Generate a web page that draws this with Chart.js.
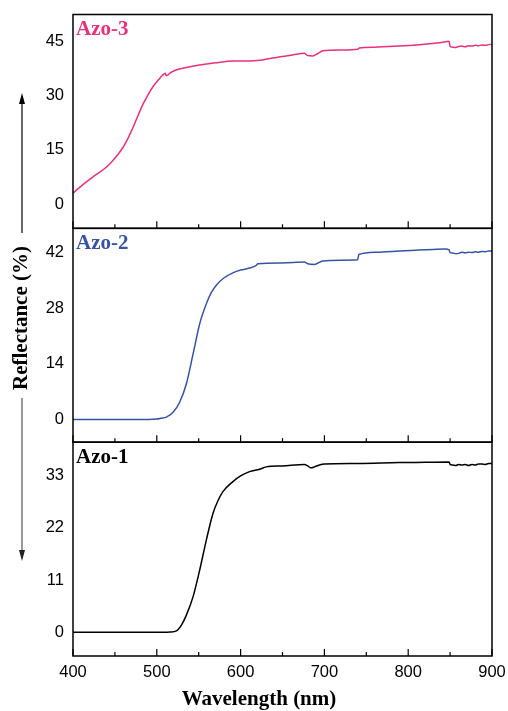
<!DOCTYPE html>
<html>
<head>
<meta charset="utf-8">
<script src="https://cdn.jsdelivr.net/npm/chart.js@4/dist/chart.umd.min.js"></script>
<style>
  html, body { margin: 0; padding: 0; background: #fff; }
  #wrap { width: 508px; height: 711px; }
</style>
</head>
<body>
<div id="wrap"><canvas id="reflChart"></canvas></div>
<script>
// --- Data ---
const xTicks = [400, 500, 600, 700, 800, 900];

const wlAzo3 = [400,408,416,424,432,440,446,453,460,466,472,478,484,490,496,502,507,510,511.5,516,523,535,551,570,591,610,623,635,650,663,676,680,686,692,698,720,739.7,741.7,760,789,810,829,840,848.8,850,853,856,860,864,868,872,876,880,884,888,892,896,900];
const rAzo3 = [3.1,4.7,6.2,7.6,8.9,10.3,11.7,13.6,15.8,18.4,21.4,24.7,27.8,30.4,32.6,34.3,35.6,36.1,35.4,36.2,37.0,37.7,38.4,39.0,39.5,39.5,39.7,40.2,40.7,41.2,41.6,41.0,40.9,41.5,42.3,42.5,42.7,43.1,43.3,43.6,43.9,44.3,44.6,44.9,43.5,43.3,43.2,43.5,43.6,43.4,43.7,43.6,43.8,43.7,43.9,43.8,44.0,44.1];
const ticksAzo3 = [0, 15, 30, 45];

const wlAzo2 = [400,450,490,500,505,511.5,519.4,527.4,535.3,543.3,551.2,559.1,565,571,580,590.8,600,610.7,618.7,620.6,650,676.2,680,688,698,720,739.7,741,761.5,790,809,830,844.6,848.8,850,853,857,860.3,864,868,872,876,880,884,888,892,896,900];
const rAzo2 = [0,0,0,0.1,0.3,0.6,1.8,4.4,9.0,16.5,24.1,29.1,31.9,33.8,35.6,36.9,37.6,38.1,38.8,39.2,39.4,39.6,39.2,39.0,39.9,40.1,40.2,41.5,42.1,42.4,42.6,42.8,42.9,42.7,42.0,41.9,41.7,41.8,42.1,41.9,42.1,42.0,42.2,42.1,42.3,42.2,42.4,42.4];
const ticksAzo2 = [0, 14, 28, 42];

const wlAzo1 = [400,480,510,515.5,523.4,529.4,535.3,543.3,551.2,559.1,567,573,578.9,590.8,600,610.7,622.6,630.6,650,676.2,680,684,688,694,700,740,789,820,848.8,850,853,857,860,864,868,872,876,880,884,888,892,896,900];
const rAzo1 = [0,0,0,0.05,0.3,1.5,3.6,7.5,13.1,19.4,25.0,27.7,29.6,31.7,32.9,33.8,34.3,34.8,35.0,35.3,35.0,34.6,34.8,35.2,35.4,35.5,35.7,35.75,35.8,35.3,35.2,35.1,35.3,35.2,35.3,35.1,35.3,35.2,35.4,35.4,35.3,35.5,35.5];
const ticksAzo1 = [0, 11, 22, 33];

const panelNames = ["Azo-3", "Azo-2", "Azo-1"];
const panelColors = ["#e8307c", "#3953a4", "#000000"];

// --- Helpers ---
const pts = (xs, ys) => xs.map((x, i) => ({ x: x, y: ys[i] }));
const tickFont = { family: "'Liberation Sans', Arial, sans-serif", size: 16.5 };
const serif = "'Liberation Serif', 'DejaVu Serif', serif";

function yScale(min, max, tickVals) {
  return {
    type: 'linear',
    position: 'left',
    stack: 'panels',
    stackWeight: 1,
    min: min,
    max: max,
    afterBuildTicks: s => { s.ticks = tickVals.map(v => ({ value: v })); },
    afterFit: s => { s.width = 73; s.paddingTop = 0; s.paddingBottom = 0; },
    grid: { display: false, drawTicks: false },
    border: { display: false },
    ticks: { color: '#000', font: tickFont, padding: 9 }
  };
}

// --- Frame, inner ticks, labels ---
const framePlugin = {
  id: 'frame',
  afterDraw(chart) {
    const ctx = chart.ctx;
    const xs = chart.scales.x;
    const panels = [chart.scales.yTop, chart.scales.yMid, chart.scales.yBot];
    ctx.save();
    ctx.strokeStyle = '#000';
    panels.forEach((s, i) => {
      ctx.lineWidth = 1.5;
      ctx.strokeRect(xs.left, s.top, xs.right - xs.left, s.bottom - s.top);
      ctx.lineWidth = 1.2;
      for (let v = 400; v <= 900; v += 50) {
        const px = xs.getPixelForValue(v);
        const len = v % 100 === 0 ? 7 : 4;
        ctx.beginPath();
        ctx.moveTo(px, s.bottom);
        ctx.lineTo(px, s.bottom - len);
        ctx.stroke();
      }
      ctx.fillStyle = panelColors[i];
      ctx.font = "bold 21px " + serif;
      ctx.textAlign = 'left';
      ctx.textBaseline = 'middle';
      ctx.fillText(panelNames[i], xs.left + 3, s.top + 15);
    });

    // y title with arrows
    ctx.fillStyle = '#000';
    ctx.font = "bold 21px " + serif;
    ctx.save();
    ctx.translate(22, 318);
    ctx.rotate(-Math.PI / 2);
    ctx.textAlign = 'center';
    ctx.textBaseline = 'middle';
    ctx.fillText("Reflectance (%)", 0, 0);
    ctx.restore();

    ctx.lineWidth = 1.2;
    ctx.beginPath();
    ctx.moveTo(22, 233); ctx.lineTo(22, 100);
    ctx.stroke();
    ctx.beginPath();
    ctx.moveTo(22, 93); ctx.lineTo(19, 104); ctx.lineTo(25, 104); ctx.closePath();
    ctx.fill();

    ctx.strokeStyle = '#555';
    ctx.fillStyle = '#222';
    ctx.beginPath();
    ctx.moveTo(22, 398); ctx.lineTo(22, 553);
    ctx.stroke();
    ctx.beginPath();
    ctx.moveTo(22, 561); ctx.lineTo(19, 550); ctx.lineTo(25, 550); ctx.closePath();
    ctx.fill();

    // x title
    ctx.fillStyle = '#000';
    ctx.font = "bold 21px " + serif;
    ctx.textAlign = 'center';
    ctx.textBaseline = 'middle';
    ctx.fillText("Wavelength (nm)", 259, 700);
    ctx.restore();
  }
};

// --- Chart ---
new Chart(document.getElementById("reflChart").getContext("2d"), {
  type: 'line',
  data: {
    datasets: [
      { label: panelNames[0], data: pts(wlAzo3, rAzo3), yAxisID: 'yTop', borderColor: panelColors[0] },
      { label: panelNames[1], data: pts(wlAzo2, rAzo2), yAxisID: 'yMid', borderColor: panelColors[1] },
      { label: panelNames[2], data: pts(wlAzo1, rAzo1), yAxisID: 'yBot', borderColor: panelColors[2] }
    ].map(d => Object.assign(d, {
      borderWidth: 1.5, pointRadius: 0, fill: false, cubicInterpolationMode: 'monotone'
    }))
  },
  options: {
    responsive: true,
    maintainAspectRatio: false,
    animation: false,
    layout: { padding: { top: 14.5, right: 16, left: 0, bottom: 0 } },
    plugins: { legend: { display: false }, tooltip: { enabled: false } },
    scales: {
      x: {
        type: 'linear',
        position: 'bottom',
        min: 400,
        max: 900,
        afterBuildTicks: s => { s.ticks = xTicks.map(v => ({ value: v })); },
        afterFit: s => { s.height = 55; s.paddingLeft = 0; s.paddingRight = 0; },
        grid: { display: false, drawTicks: false },
        border: { display: false },
        ticks: { color: '#000', font: tickFont, padding: 7, maxRotation: 0 }
      },
      yBot: yScale(-5, 40, ticksAzo1),
      yMid: yScale(-5.7, 48.1, ticksAzo2),
      yTop: yScale(-6.6, 52.3, ticksAzo3)
    }
  },
  plugins: [framePlugin]
});
</script>
</body>
</html>
